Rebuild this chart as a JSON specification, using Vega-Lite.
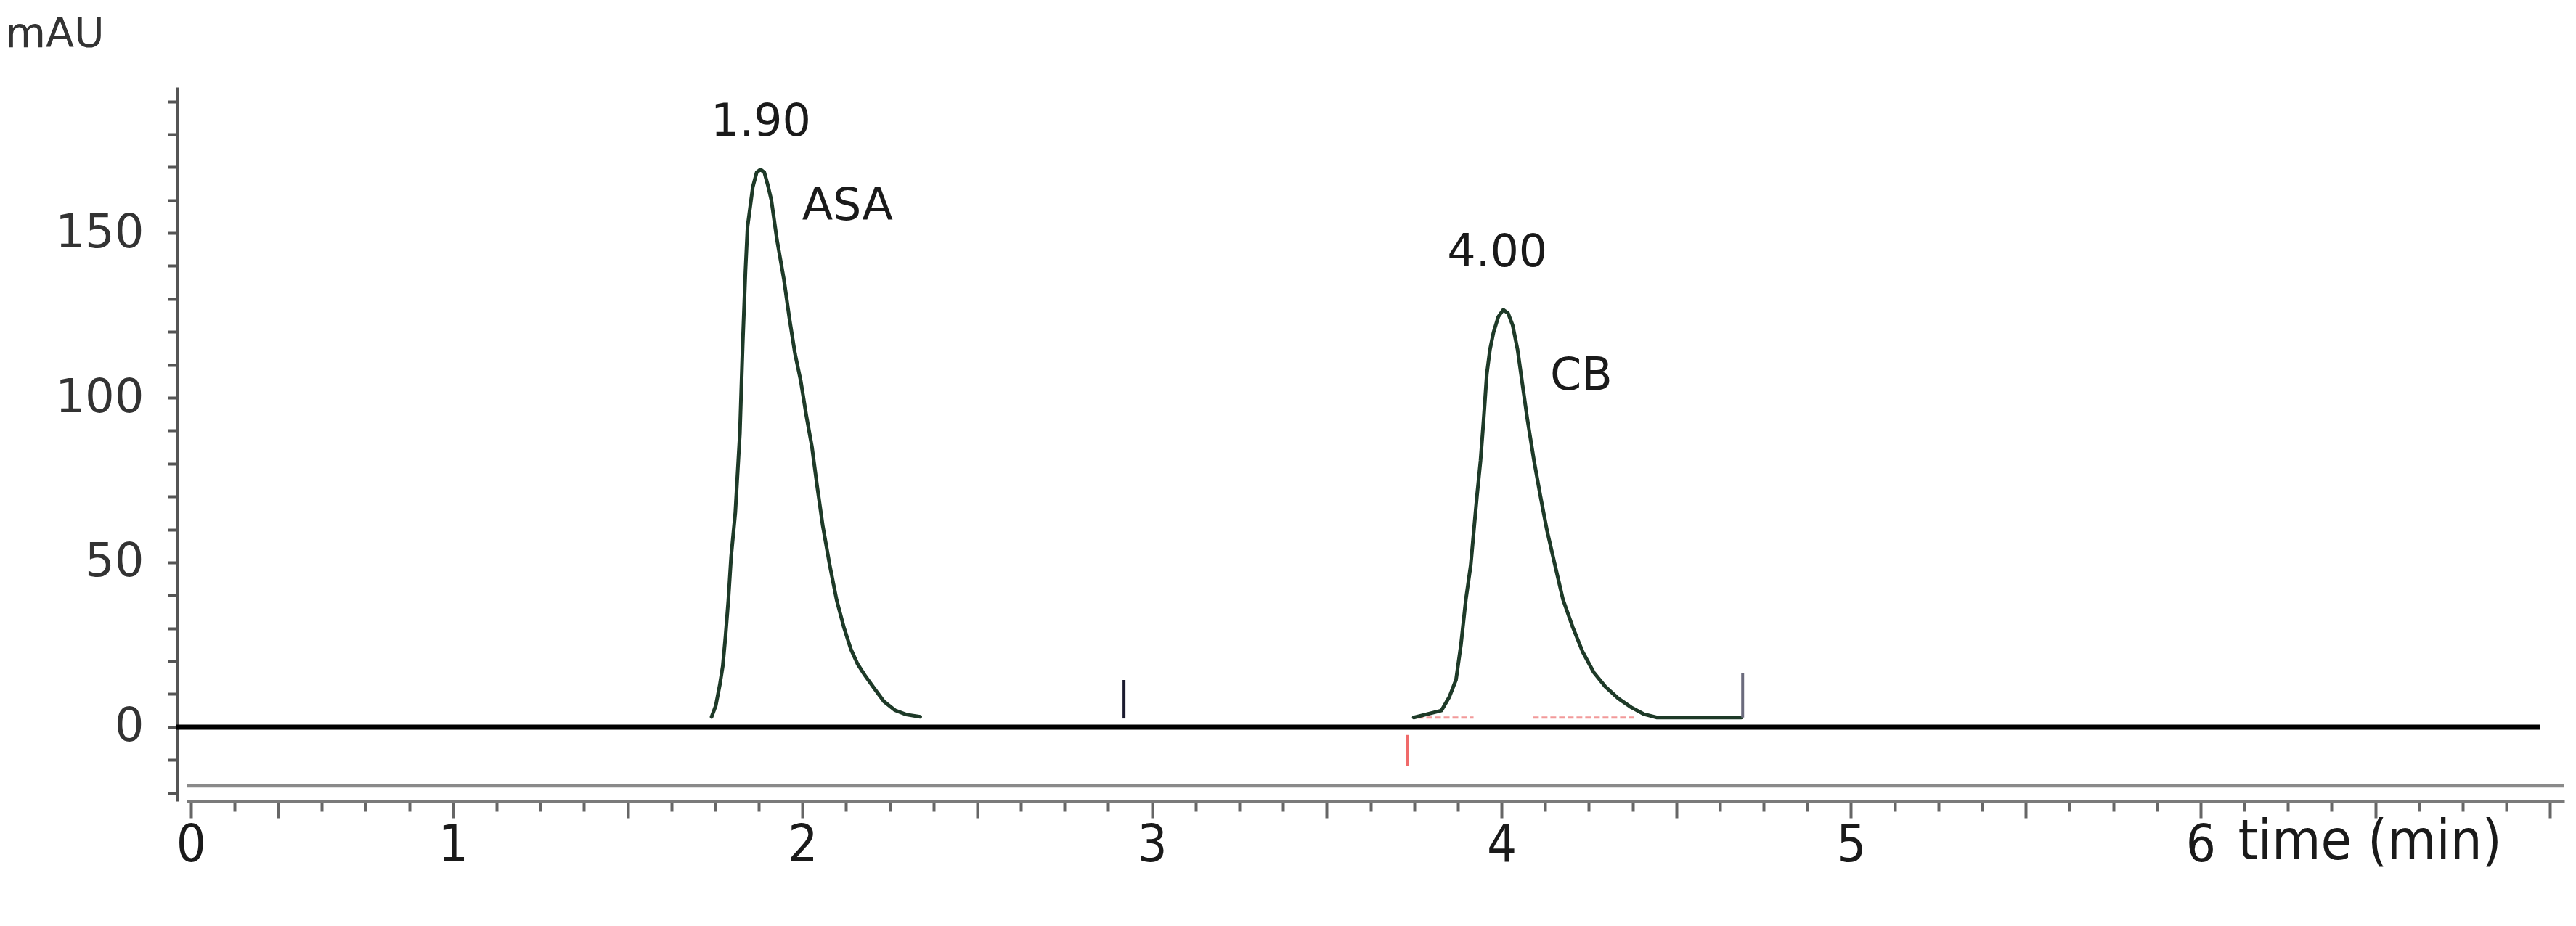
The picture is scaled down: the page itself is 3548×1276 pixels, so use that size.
{
  "$schema": "https://vega.github.io/schema/vega-lite/v6.json",
  "width": 3275,
  "height": 984,
  "autosize": {"type": "none"},
  "padding": {"left": 257, "top": 120, "right": 16, "bottom": 172},
  "background": "white",
  "config": {"view": {"stroke": null}},
  "datasets": {
    "peaks": [
      {"peak": "ASA", "t": 1.740, "v": 3.1},
      {"peak": "ASA", "t": 1.752, "v": 6.5},
      {"peak": "ASA", "t": 1.764, "v": 13.1},
      {"peak": "ASA", "t": 1.772, "v": 18.5},
      {"peak": "ASA", "t": 1.780, "v": 27.8},
      {"peak": "ASA", "t": 1.788, "v": 38.5},
      {"peak": "ASA", "t": 1.796, "v": 51.8},
      {"peak": "ASA", "t": 1.808, "v": 65.2},
      {"peak": "ASA", "t": 1.821, "v": 89.2},
      {"peak": "ASA", "t": 1.829, "v": 115.9},
      {"peak": "ASA", "t": 1.837, "v": 138.6},
      {"peak": "ASA", "t": 1.843, "v": 152.0},
      {"peak": "ASA", "t": 1.858, "v": 164.0},
      {"peak": "ASA", "t": 1.869, "v": 168.4},
      {"peak": "ASA", "t": 1.880, "v": 169.3},
      {"peak": "ASA", "t": 1.891, "v": 168.4},
      {"peak": "ASA", "t": 1.901, "v": 164.5},
      {"peak": "ASA", "t": 1.911, "v": 160.0},
      {"peak": "ASA", "t": 1.927, "v": 148.0},
      {"peak": "ASA", "t": 1.947, "v": 135.9},
      {"peak": "ASA", "t": 1.963, "v": 123.9},
      {"peak": "ASA", "t": 1.979, "v": 113.2},
      {"peak": "ASA", "t": 1.995, "v": 105.2},
      {"peak": "ASA", "t": 2.011, "v": 94.6},
      {"peak": "ASA", "t": 2.027, "v": 85.2},
      {"peak": "ASA", "t": 2.042, "v": 73.2},
      {"peak": "ASA", "t": 2.058, "v": 61.2},
      {"peak": "ASA", "t": 2.078, "v": 49.2},
      {"peak": "ASA", "t": 2.098, "v": 38.5},
      {"peak": "ASA", "t": 2.118, "v": 30.5},
      {"peak": "ASA", "t": 2.138, "v": 23.8},
      {"peak": "ASA", "t": 2.158, "v": 19.1},
      {"peak": "ASA", "t": 2.178, "v": 15.8},
      {"peak": "ASA", "t": 2.205, "v": 11.8},
      {"peak": "ASA", "t": 2.233, "v": 7.8},
      {"peak": "ASA", "t": 2.265, "v": 5.1},
      {"peak": "ASA", "t": 2.297, "v": 3.8},
      {"peak": "ASA", "t": 2.337, "v": 3.1},
      {"peak": "CB", "t": 3.749, "v": 2.9},
      {"peak": "CB", "t": 3.828, "v": 5.0},
      {"peak": "CB", "t": 3.851, "v": 9.2},
      {"peak": "CB", "t": 3.870, "v": 14.4},
      {"peak": "CB", "t": 3.884, "v": 25.0},
      {"peak": "CB", "t": 3.898, "v": 38.7},
      {"peak": "CB", "t": 3.912, "v": 49.2},
      {"peak": "CB", "t": 3.921, "v": 59.8},
      {"peak": "CB", "t": 3.930, "v": 70.3},
      {"peak": "CB", "t": 3.940, "v": 80.9},
      {"peak": "CB", "t": 3.949, "v": 93.5},
      {"peak": "CB", "t": 3.958, "v": 107.2},
      {"peak": "CB", "t": 3.967, "v": 114.6},
      {"peak": "CB", "t": 3.977, "v": 119.8},
      {"peak": "CB", "t": 3.991, "v": 124.6},
      {"peak": "CB", "t": 4.005, "v": 126.7},
      {"peak": "CB", "t": 4.019, "v": 125.6},
      {"peak": "CB", "t": 4.032, "v": 122.0},
      {"peak": "CB", "t": 4.046, "v": 114.6},
      {"peak": "CB", "t": 4.060, "v": 104.0},
      {"peak": "CB", "t": 4.074, "v": 93.5},
      {"peak": "CB", "t": 4.093, "v": 80.9},
      {"peak": "CB", "t": 4.111, "v": 70.3},
      {"peak": "CB", "t": 4.130, "v": 59.8},
      {"peak": "CB", "t": 4.153, "v": 49.2},
      {"peak": "CB", "t": 4.176, "v": 38.7},
      {"peak": "CB", "t": 4.204, "v": 30.3},
      {"peak": "CB", "t": 4.232, "v": 22.9},
      {"peak": "CB", "t": 4.264, "v": 16.6},
      {"peak": "CB", "t": 4.297, "v": 12.3},
      {"peak": "CB", "t": 4.334, "v": 8.7},
      {"peak": "CB", "t": 4.371, "v": 6.0},
      {"peak": "CB", "t": 4.408, "v": 3.9},
      {"peak": "CB", "t": 4.445, "v": 2.9},
      {"peak": "CB", "t": 4.686, "v": 2.9}
    ],
    "hlines": [
      {"kind": "baseline", "t": 0.207, "t2": 6.971, "v": 0},
      {"kind": "frame", "t": 0.238, "t2": 7.041, "v": -17.8}
    ],
    "integration": [
      {"t": 3.76, "t2": 3.92, "v": 2.9},
      {"t": 4.09, "t2": 4.38, "v": 2.9}
    ],
    "markers": [
      {"kind": "event", "t": 2.920, "v": 2.6, "v2": 14.3},
      {"kind": "start", "t": 3.730, "v": -2.4, "v2": -11.7},
      {"kind": "end", "t": 4.690, "v": 2.9, "v2": 16.5}
    ],
    "labels": [
      {"t": 1.881, "v": 183.7, "label": "1.90"},
      {"t": 2.129, "v": 158.1, "label": "ASA"},
      {"t": 3.988, "v": 144.1, "label": "4.00"},
      {"t": 4.228, "v": 106.6, "label": "CB"}
    ]
  },
  "encoding": {
    "x": {
      "field": "t",
      "type": "quantitative",
      "scale": {"domain": [0.238, 7.041], "nice": false, "zero": false},
      "axis": {
        "values": [0.25,0.375,0.5,0.625,0.75,0.875,1,1.125,1.25,1.375,1.5,1.625,1.75,1.875,2,2.125,2.25,2.375,2.5,2.625,2.75,2.875,3,3.125,3.25,3.375,3.5,3.625,3.75,3.875,4,4.125,4.25,4.375,4.5,4.625,4.75,4.875,5,5.125,5.25,5.375,5.5,5.625,5.75,5.875,6,6.125,6.25,6.375,6.5,6.625,6.75,6.875,7],
        "labelExpr": "datum.value == 0.25 ? '0' : (datum.value % 1 == 0 && datum.value < 6.5 ? format(datum.value, 'd') : '')",
        "labelOverlap": false,
        "labelFlush": false,
        "labelBound": false,
        "grid": false,
        "domainColor": "#7a7a7a",
        "domainWidth": 5,
        "tickColor": "#666666",
        "tickWidth": 4,
        "tickSize": {"condition": {"test": "datum.value % 0.5 == 0 || datum.value == 0.25", "value": 23}, "value": 14},
        "labelFont": "DejaVu Sans Condensed, Liberation Sans Narrow, sans-serif",
        "labelFontSize": 72,
        "labelColor": "#1a1a1a",
        "labelBaseline": "middle",
        "labelPadding": 37,
        "title": "time (min)",
        "titleFont": "DejaVu Sans Condensed, Liberation Sans Narrow, sans-serif",
        "titleFontSize": 77,
        "titleFontWeight": "normal",
        "titleColor": "#1a1a1a",
        "titleAlign": "left",
        "titleBaseline": "middle",
        "titleAnchor": "start",
        "titleX": 2825,
        "titleY": 56
      }
    },
    "y": {
      "field": "v",
      "type": "quantitative",
      "scale": {"domain": [-22.5, 194.3], "nice": false, "zero": false},
      "axis": {
        "values": [-20,-10,0,10,20,30,40,50,60,70,80,90,100,110,120,130,140,150,160,170,180,190],
        "labelExpr": "datum.value % 50 == 0 && datum.value >= 0 ? format(datum.value, 'd') : ''",
        "offset": 13,
        "grid": false,
        "domainColor": "#555555",
        "domainWidth": 4,
        "tickColor": "#555555",
        "tickWidth": 4,
        "tickSize": 13,
        "labelFont": "DejaVu Sans",
        "labelFontSize": 64,
        "labelColor": "#333333",
        "labelPadding": 33,
        "labelOverlap": false,
        "labelFlush": false,
        "labelBound": false,
        "title": "mAU",
        "titleFont": "DejaVu Sans",
        "titleFontSize": 57,
        "titleFontWeight": "normal",
        "titleColor": "#333333",
        "titleAngle": 0,
        "titleAlign": "center",
        "titleBaseline": "middle",
        "titleX": -169,
        "titleY": -73
      }
    }
  },
  "layer": [
    {
      "data": {"name": "hlines"},
      "mark": {"type": "rule"},
      "encoding": {
        "x2": {"field": "t2"},
        "color": {"field": "kind", "type": "nominal", "scale": {"domain": ["baseline", "frame"], "range": ["#000000", "#8a8a8a"]}, "legend": null},
        "strokeWidth": {"field": "kind", "type": "nominal", "scale": {"domain": ["baseline", "frame"], "range": [7, 5]}, "legend": null}
      }
    },
    {
      "data": {"name": "integration"},
      "mark": {"type": "rule", "color": "#f29a9a", "strokeWidth": 3, "strokeDash": [8, 4]},
      "encoding": {"x2": {"field": "t2"}}
    },
    {
      "data": {"name": "peaks"},
      "mark": {"type": "line", "color": "#1e3a28", "strokeWidth": 5, "interpolate": "linear", "strokeJoin": "round", "strokeCap": "round"},
      "encoding": {"detail": {"field": "peak", "type": "nominal"}}
    },
    {
      "data": {"name": "markers"},
      "mark": {"type": "rule", "strokeWidth": 4},
      "encoding": {
        "y2": {"field": "v2"},
        "color": {"field": "kind", "type": "nominal", "scale": {"domain": ["event", "start", "end"], "range": ["#1a1a2e", "#f06a6a", "#6b6b7d"]}, "legend": null}
      }
    },
    {
      "data": {"name": "labels"},
      "mark": {"type": "text", "font": "DejaVu Sans", "fontSize": 62, "color": "#1a1a1a", "align": "center", "baseline": "middle"},
      "encoding": {"text": {"field": "label", "type": "nominal"}}
    }
  ],
  "resolve": {"scale": {"color": "independent", "strokeWidth": "independent"}}
}
